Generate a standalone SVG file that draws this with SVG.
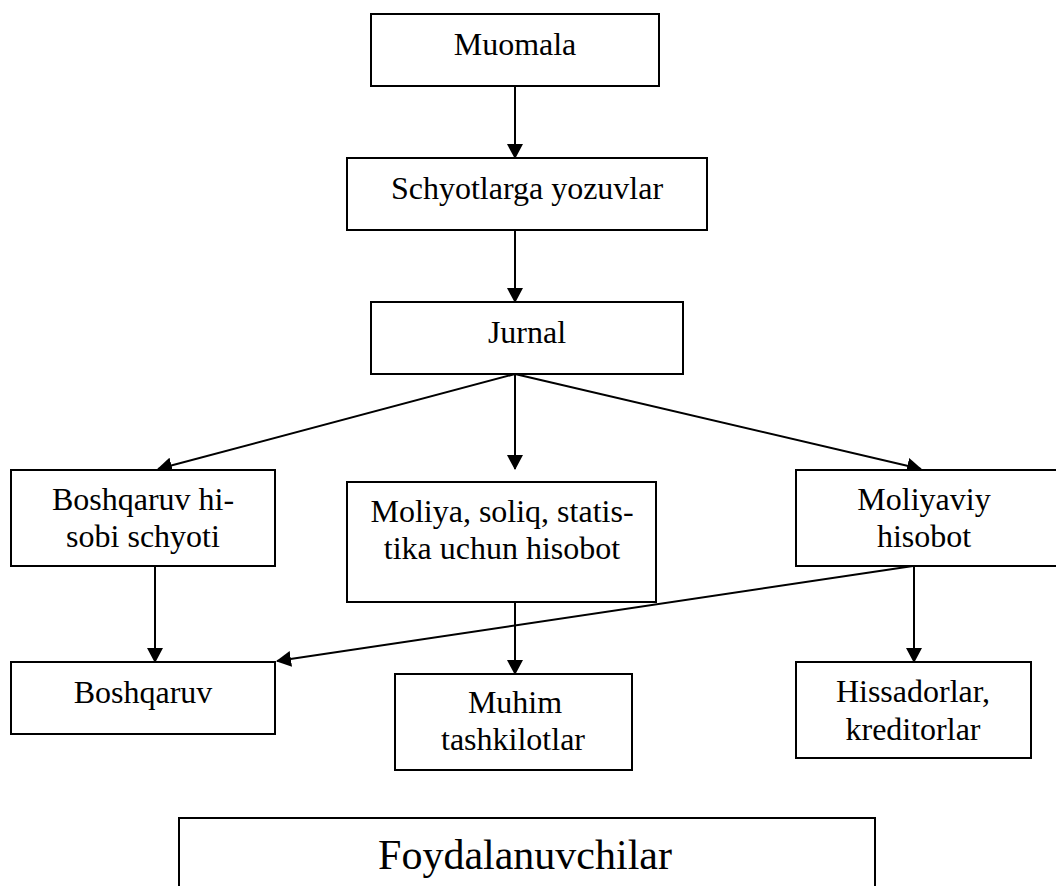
<svg xmlns="http://www.w3.org/2000/svg" width="1056" height="886" viewBox="0 0 1056 886">
  <style>
    .box { fill: #ffffff; stroke: #000000; stroke-width: 2; }
    .lbl { font-family: "Liberation Serif", "Times New Roman", serif; font-size: 32px; fill: #000000; text-anchor: middle; }
    .big { font-size: 42px; }
    .edge { fill: none; stroke: #000000; stroke-width: 2; marker-end: url(#arrow); }
  </style>
  <defs>
    <marker id="arrow" viewBox="0 0 15 16" refX="14" refY="8" markerWidth="15" markerHeight="16" markerUnits="userSpaceOnUse" orient="auto">
      <path d="M0,0 L15,8 L0,16 Z" fill="#000000"/>
    </marker>
  </defs>
  <rect width="1056" height="886" fill="#ffffff"/>

  <g id="connectors">
    <line class="edge" x1="515" y1="86" x2="515" y2="158"/>
    <line class="edge" x1="515" y1="230" x2="515" y2="302"/>
    <line class="edge" x1="515" y1="374" x2="158" y2="469"/>
    <line class="edge" x1="515" y1="374" x2="515" y2="469"/>
    <line class="edge" x1="515" y1="374" x2="921" y2="469"/>
    <line class="edge" x1="155" y1="566" x2="155" y2="662"/>
    <line class="edge" x1="913" y1="566" x2="277" y2="661"/>
    <line class="edge" x1="515" y1="602" x2="515" y2="674"/>
    <line class="edge" x1="914" y1="566" x2="914" y2="662"/>
  </g>

  <g id="muomala">
    <rect class="box" x="371" y="14" width="288" height="72"/>
    <text class="lbl" x="515" y="55">Muomala</text>
  </g>
  <g id="schyotlarga">
    <rect class="box" x="347" y="158" width="360" height="72"/>
    <text class="lbl" x="527" y="199">Schyotlarga yozuvlar</text>
  </g>
  <g id="jurnal">
    <rect class="box" x="371" y="302" width="312" height="72"/>
    <text class="lbl" x="527" y="343">Jurnal</text>
  </g>
  <g id="boshqaruv-hisobi">
    <rect class="box" x="11" y="470" width="264" height="96"/>
    <text class="lbl" x="143" y="510">Boshqaruv hi-</text>
    <text class="lbl" x="143" y="547">sobi schyoti</text>
  </g>
  <g id="moliya-soliq">
    <rect class="box" x="347" y="482" width="309" height="120"/>
    <text class="lbl" x="502" y="522">Moliya, soliq, statis-</text>
    <text class="lbl" x="502" y="559">tika uchun hisobot</text>
  </g>
  <g id="moliyaviy-hisobot">
    <rect class="box" x="796" y="470" width="270" height="96"/>
    <text class="lbl" x="924" y="510">Moliyaviy</text>
    <text class="lbl" x="924" y="547">hisobot</text>
  </g>
  <g id="boshqaruv">
    <rect class="box" x="11" y="662" width="264" height="72"/>
    <text class="lbl" x="143" y="703">Boshqaruv</text>
  </g>
  <g id="muhim-tashkilotlar">
    <rect class="box" x="395" y="674" width="237" height="96"/>
    <text class="lbl" x="515" y="713">Muhim</text>
    <text class="lbl" x="513" y="750">tashkilotlar</text>
  </g>
  <g id="hissadorlar">
    <rect class="box" x="796" y="662" width="235" height="96"/>
    <text class="lbl" x="913" y="702">Hissadorlar,</text>
    <text class="lbl" x="913" y="740">kreditorlar</text>
  </g>
  <g id="foydalanuvchilar">
    <rect class="box" x="179" y="818" width="696" height="90"/>
    <text class="lbl big" x="525" y="869">Foydalanuvchilar</text>
  </g>
</svg>
